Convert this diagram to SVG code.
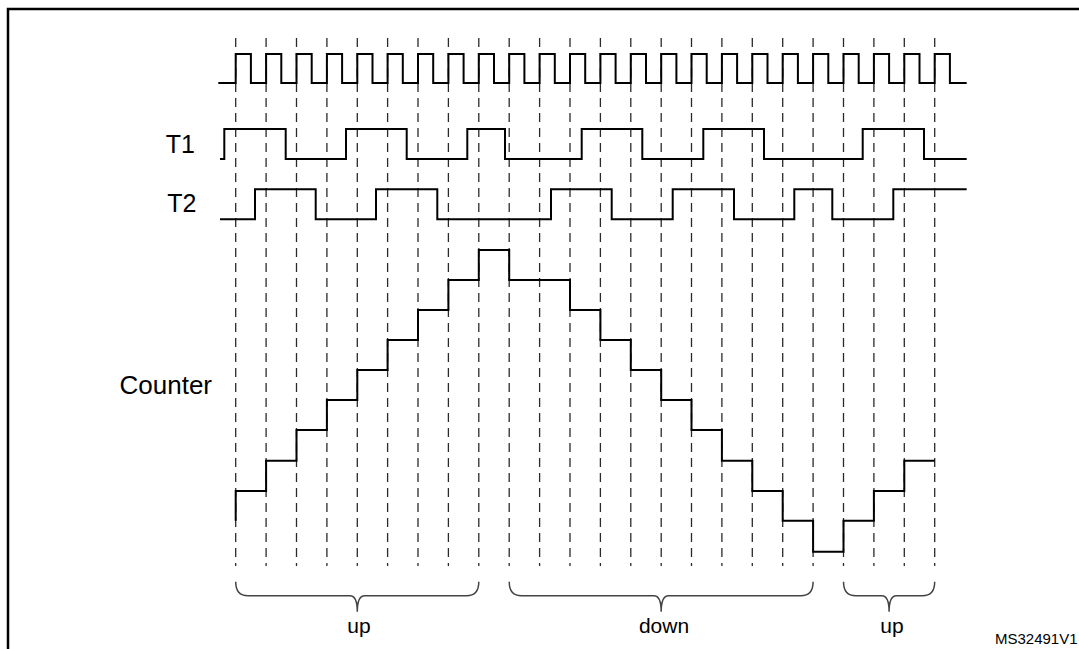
<svg xmlns="http://www.w3.org/2000/svg" width="1079" height="649" viewBox="0 0 1079 649">
  <style>
    .grid { stroke: #2a2a2a; stroke-width: 1.3; stroke-dasharray: 9 6; fill: none; }
    .wave { stroke: #000; stroke-width: 2; fill: none; stroke-linejoin: miter; }
    .brace { stroke: #444; stroke-width: 1.5; fill: none; }
    .lbl { font-family: "Liberation Sans", Arial, sans-serif; font-size: 25px; fill: #000; }
    .sub { font-family: "Liberation Sans", Arial, sans-serif; font-size: 21px; fill: #000; text-anchor: middle; }
    .ref { font-family: "Liberation Sans", Arial, sans-serif; font-size: 15px; fill: #000; }
  </style>
  <rect width="1079" height="649" fill="#fff"/>
  <rect id="frame" x="8" y="9" width="1120" height="700" fill="none" stroke="#000" stroke-width="2.5"/>

  <g id="gridlines">
    <line class="grid" x1="235.7" y1="38" x2="235.7" y2="566"/>
    <line class="grid" x1="266.1" y1="38" x2="266.1" y2="566"/>
    <line class="grid" x1="296.5" y1="38" x2="296.5" y2="566"/>
    <line class="grid" x1="326.9" y1="38" x2="326.9" y2="566"/>
    <line class="grid" x1="357.3" y1="38" x2="357.3" y2="566"/>
    <line class="grid" x1="387.6" y1="38" x2="387.6" y2="566"/>
    <line class="grid" x1="418" y1="38" x2="418" y2="566"/>
    <line class="grid" x1="448.4" y1="38" x2="448.4" y2="566"/>
    <line class="grid" x1="478.8" y1="38" x2="478.8" y2="566"/>
    <line class="grid" x1="509.2" y1="38" x2="509.2" y2="566"/>
    <line class="grid" x1="539.6" y1="38" x2="539.6" y2="566"/>
    <line class="grid" x1="570" y1="38" x2="570" y2="566"/>
    <line class="grid" x1="600.4" y1="38" x2="600.4" y2="566"/>
    <line class="grid" x1="630.8" y1="38" x2="630.8" y2="566"/>
    <line class="grid" x1="661.2" y1="38" x2="661.2" y2="566"/>
    <line class="grid" x1="691.5" y1="38" x2="691.5" y2="566"/>
    <line class="grid" x1="721.9" y1="38" x2="721.9" y2="566"/>
    <line class="grid" x1="752.3" y1="38" x2="752.3" y2="566"/>
    <line class="grid" x1="782.7" y1="38" x2="782.7" y2="566"/>
    <line class="grid" x1="813.1" y1="38" x2="813.1" y2="566"/>
    <line class="grid" x1="843.5" y1="38" x2="843.5" y2="566"/>
    <line class="grid" x1="873.9" y1="38" x2="873.9" y2="566"/>
    <line class="grid" x1="904.3" y1="38" x2="904.3" y2="566"/>
    <line class="grid" x1="934.7" y1="38" x2="934.7" y2="566"/>
  </g>

  <g id="clock">
    <path class="wave" d="M218.3,83 H235.7 V54 H250.9 V83 H266.1 V54 H281.3 V83 H296.5 V54 H311.7 V83 H326.9 V54 H342.1 V83 H357.3 V54 H372.5 V83 H387.6 V54 H402.8 V83 H418 V54 H433.2 V83 H448.4 V54 H463.6 V83 H478.8 V54 H494 V83 H509.2 V54 H524.4 V83 H539.6 V54 H554.8 V83 H570 V54 H585.2 V83 H600.4 V54 H615.6 V83 H630.8 V54 H646 V83 H661.2 V54 H676.4 V83 H691.5 V54 H706.7 V83 H721.9 V54 H737.1 V83 H752.3 V54 H767.5 V83 H782.7 V54 H797.9 V83 H813.1 V54 H828.3 V83 H843.5 V54 H858.7 V83 H873.9 V54 H889.1 V83 H904.3 V54 H919.5 V83 H934.7 V54 H949.9 V83 H966.7"/>
  </g>

  <g id="T1">
    <text class="lbl" x="195" y="152.7" text-anchor="end">T1</text>
    <path class="wave" d="M220,159 H224.3 V129 H285.7 V159 H346 V129 H406.7 V159 H467.3 V129 H505 V159 H581.7 V129 H642.3 V159 H703.3 V129 H764 V159 H862.7 V129 H924 V159 H966.7"/>
  </g>

  <g id="T2">
    <text class="lbl" x="196.5" y="212.3" text-anchor="end">T2</text>
    <path class="wave" d="M220,219.3 H255 V189.3 H315.7 V219.3 H376 V189.3 H437.3 V219.3 H551 V189.3 H611.7 V219.3 H672.7 V189.3 H734 V219.3 H794.3 V189.3 H832.3 V219.3 H893.3 V189.3 H966.7"/>
  </g>

  <g id="counter">
    <text class="lbl" x="212" y="393.5" text-anchor="end" style="font-size:26px">Counter</text>
    <path class="wave" d="M235.7,520.7 V491 H266.1 V460.7 H296.5 V430 H326.9 V400 H357.3 V370 H387.6 V340 H418 V310 H448.4 V280 H478.8 V250 H509.2 V280 H570 V310 H600.4 V340 H630.8 V370 H661.2 V400 H691.5 V430 H721.9 V460.7 H752.3 V491 H782.7 V520.7 H813.1 V551.7 H843.5 V520.7 H873.9 V491 H904.3 V460.7 H934.7"/>
  </g>

  <g id="brace-up1">
    <path class="brace" d="M235.7,581.7 C235.7,592 240,595.7 248,595.7 H350 C354,595.7 357.3,600 357.3,611.7 C357.3,600 360.6,595.7 364.6,595.7 H466.5 C474.5,595.7 478.8,592 478.8,581.7"/>
    <text class="sub" x="359" y="633.3">up</text>
  </g>

  <g id="brace-down">
    <path class="brace" d="M509.2,581.7 C509.2,592 513.5,595.7 521.5,595.7 H653.9 C657.9,595.7 661.2,600 661.2,611.7 C661.2,600 664.5,595.7 668.5,595.7 H800.8 C808.8,595.7 813.1,592 813.1,581.7"/>
    <text class="sub" x="664" y="633.3">down</text>
  </g>

  <g id="brace-up2">
    <path class="brace" d="M843.5,581.7 C843.5,592 847.8,595.7 855.8,595.7 H881.8 C885.8,595.7 889.1,600 889.1,611.7 C889.1,600 892.4,595.7 896.4,595.7 H922.4 C930.4,595.7 934.7,592 934.7,581.7"/>
    <text class="sub" x="892" y="633.3">up</text>
  </g>

  <text class="ref" x="995" y="644.3">MS32491V1</text>
</svg>
